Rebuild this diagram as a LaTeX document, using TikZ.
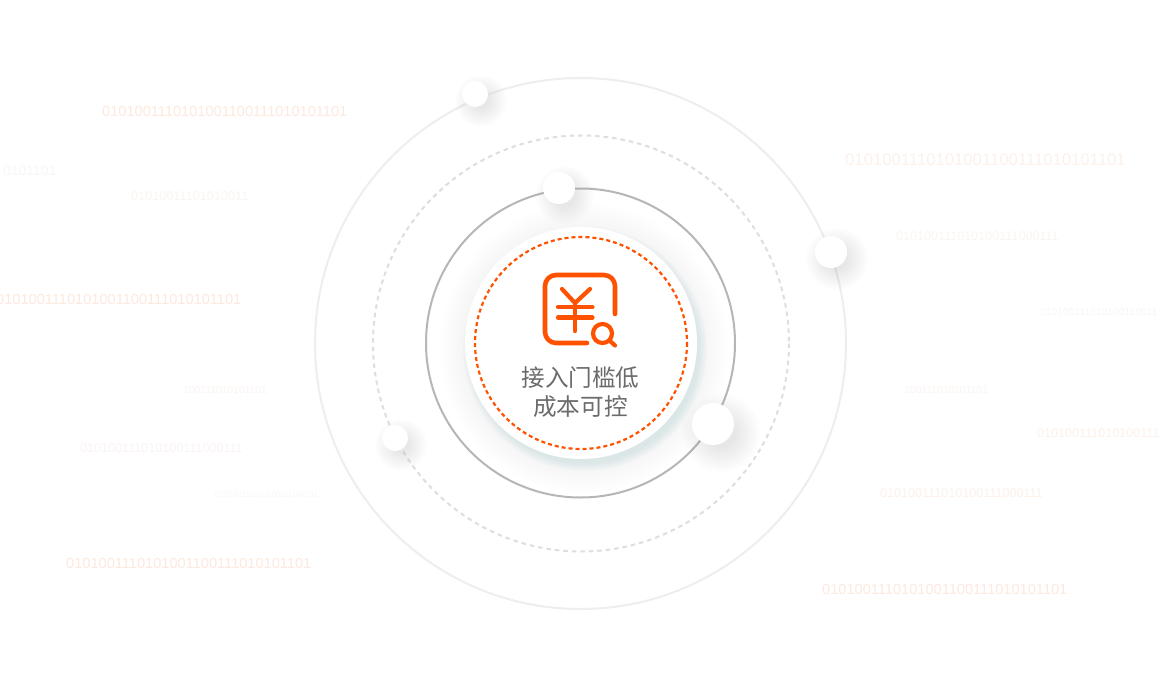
\documentclass[tikz,border=0pt]{standalone}
\usepackage{fontspec}
\setmainfont{Liberation Sans}
\newfontfamily\cjkfont{Noto Sans CJK SC}
\definecolor{iconorange}{HTML}{FF5200}
\definecolor{ringpale}{HTML}{ECEFEE}
\definecolor{ringdash}{HTML}{DEDEDE}
\definecolor{ringgray}{HTML}{B6B6B6}
\definecolor{haloteal}{HTML}{B4D4D8}
\definecolor{glowgray}{HTML}{8C9496}
\definecolor{bitstrong}{HTML}{FDE9DE}
\definecolor{bitmid}{HTML}{FDF1EA}
\definecolor{bitfaint}{HTML}{FBF5F2}
\definecolor{bitghost}{HTML}{F9F7F6}
\definecolor{captiongray}{HTML}{6B6B6B}
\tikzset{
  bits/.style={anchor=west,inner sep=0pt,font=\fontsize{#1}{#1}\selectfont},
  moon/.style={fill=white},
  iconline/.style={iconorange,line width=4.6pt,line cap=round,line join=round}
}
% soft shadow: x, y, radius, spread, colour, opacity
\newcommand{\softglow}[6]{
  \foreach \k in {0,1,...,11}
    \fill[#5,opacity=#6] (#1,#2) circle ({#3+#4*(1-\k/11)});
}

\begin{document}
\begin{tikzpicture}[x=1pt,y=-1pt]
  \useasboundingbox (0,0) rectangle (1160,680);
  \clip (0,0) rectangle (1160,680);
  \fill[white] (0,0) rectangle (1160,680);

  % Binary text, left
  \node[bits=14.6,text=bitstrong] (bitsa) at (102,111) {0101001110101001100111010101101};
  \node[bits=13.9,text=bitghost] (bitsb) at (3,171) {0101101};
  \node[bits=12.7,text=bitfaint] (bitsc) at (131,196) {01010011101010011};
  \node[bits=14.6,text=bitstrong] (bitsd) at (-4,299) {0101001110101001100111010101101};
  \node[bits=10.3,text=bitfaint] (bitse) at (183,390) {100111010101101};
  \node[bits=12.6,text=bitfaint] (bitsf) at (80,448) {010100111010100111000111};
  \node[bits=8,text=bitghost] (bitsg) at (215,494.5) {010100111010100111000111};
  \node[bits=14.6,text=bitstrong] (bitsh) at (66,563) {0101001110101001100111010101101};

  % Binary text, right
  \node[bits=16.7,text=bitmid] (bitsi) at (845,160) {0101001110101001100111010101101};
  \node[bits=12.6,text=bitfaint] (bitsj) at (896,236) {010100111010100111000111};
  \node[bits=10.3,text=bitghost] (bitsk) at (1040,312) {010100111010100110011};
  \node[bits=10.3,text=bitfaint] (bitsl) at (904,390) {100111010101101};
  \node[bits=12.6,text=bitmid] (bitsm) at (1037,433) {010100111010100111000111};
  \node[bits=12.6,text=bitmid] (bitsn) at (880,493) {010100111010100111000111};
  \node[bits=14.6,text=bitstrong] (bitso) at (822,589) {0101001110101001100111010101101};

  % Orbits
  \draw[ringpale,line width=2pt] (580.5,343.5) circle (265.5);
  \draw[ringdash,line width=2pt,dash pattern=on 4.5pt off 4pt] (581,343.5) circle (208);
  \draw[ringgray,line width=2pt] (580.5,343) circle (154.5);

  % Centre disc
  \softglow{584}{348}{116}{28}{haloteal}{0.012}
  \softglow{585}{349}{114}{8}{haloteal}{0.03}
  \fill[white] (581,343) circle (116);
  \draw[iconorange,line width=2.2pt,dash pattern=on 4pt off 3pt] (581,343) circle (106);

  % Icon
  \draw[iconline] (615,314) -- (615,286) arc[start angle=0,end angle=-90,radius=11]
    -- (556,275) arc[start angle=-90,end angle=-180,radius=11]
    -- (545,332) arc[start angle=180,end angle=90,radius=11] -- (587,343);
  \draw[iconline,line width=4.2pt] (562,289) -- (575,303) -- (590,289);
  \draw[iconline,line width=4.2pt] (575,303) -- (575,331);
  \draw[iconline,line width=4.2pt] (558,307) -- (592.5,307);
  \draw[iconline,line width=4.2pt] (558,317.5) -- (592.5,317.5);
  \draw[iconline,line width=4.2pt] (602.5,333.5) circle (9.5);
  \draw[iconline,line width=4.2pt] (610,341) -- (615,345.5);

  % Caption
  \node[font=\cjkfont\fontsize{23.6}{29}\selectfont,text=captiongray,align=center,inner sep=0pt] (caption) at (580.5,392.5) {接入门槛低\\成本可控};

  % Moons
  \softglow{481}{101}{8}{18}{glowgray}{0.012}
  \fill[moon] (475,94) circle (13);
  \softglow{565}{195}{11}{18}{glowgray}{0.012}
  \fill[moon] (559,188) circle (16);
  \softglow{837}{259}{11}{20}{glowgray}{0.014}
  \fill[moon] (831,252) circle (16);
  \softglow{401}{445}{8}{18}{glowgray}{0.012}
  \fill[moon] (395,438) circle (13);
  \softglow{721}{433}{15}{24}{glowgray}{0.014}
  \fill[moon] (713,424) circle (21);
\end{tikzpicture}
\end{document}
